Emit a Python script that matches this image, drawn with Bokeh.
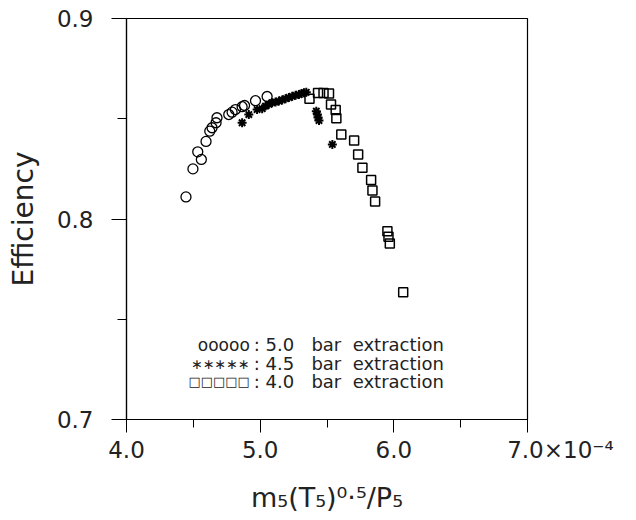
from bokeh.plotting import figure
from bokeh.models import FixedTicker, Label, Range1d
from bokeh.embed import file_html
from bokeh.resources import INLINE

# ---- data ----
x_50 = [4.445, 4.497, 4.533, 4.560, 4.595, 4.623, 4.640, 4.670, 4.677, 4.765,
        4.790, 4.815, 4.865, 4.883, 4.965, 5.052]
y_50 = [0.8110, 0.8250, 0.8335, 0.8297, 0.8387, 0.8438, 0.8455, 0.8480, 0.8505, 0.8521,
        0.8533, 0.8546, 0.8560, 0.8566, 0.8590, 0.8611]

x_45 = [4.865, 4.915, 4.977, 5.015, 5.040, 5.065, 5.090, 5.115, 5.140, 5.165,
        5.190, 5.215, 5.240, 5.265, 5.290, 5.310, 5.328, 5.345, 5.420, 5.428,
        5.433, 5.440, 5.540]
y_45 = [0.8480, 0.8521, 0.8546, 0.8550, 0.8563, 0.8572, 0.8580, 0.8583, 0.8588, 0.8594,
        0.8600, 0.8606, 0.8612, 0.8617, 0.8621, 0.8626, 0.8630, 0.8632, 0.8538, 0.8521,
        0.8506, 0.8491, 0.8372]

x_40 = [5.369, 5.433, 5.474, 5.515, 5.530, 5.565, 5.570, 5.607, 5.703, 5.733,
        5.765, 5.830, 5.840, 5.860, 5.952, 5.960, 5.970, 6.070]
y_40 = [0.8600, 0.8628, 0.8628, 0.8626, 0.8571, 0.8544, 0.8503, 0.8421, 0.8392, 0.8322,
        0.8255, 0.8195, 0.8142, 0.8087, 0.7939, 0.7911, 0.7878, 0.7635]

x_ticks = [4.0, 5.0, 6.0, 7.0]
x_minor = [4.5, 5.5, 6.5]
x_tick_labels = ["4.0", "5.0", "6.0", "\u00a0" * 9 + "7.0\u00d710\u207b\u2074"]
y_ticks = [0.7, 0.8, 0.9]
y_minor = [0.75, 0.85]
y_tick_labels = ["0.7", "0.8", "0.9"]

NB = "\u00a0"
legend_symbols = ["ooooo", "\u2217\u2217\u2217\u2217\u2217", "\u25a1\u25a1\u25a1\u25a1\u25a1"]
legend_texts = [":" + NB + "5.0" + NB * 3 + "bar" + NB * 2 + "extraction",
                ":" + NB + "4.5" + NB * 3 + "bar" + NB * 2 + "extraction",
                ":" + NB + "4.0" + NB * 3 + "bar" + NB * 2 + "extraction"]
legend_symbol_sizes = ["17px", "14px", "13px"]

FONT = "DejaVu Sans"
INK = "#222222"

p = figure(frame_width=401, frame_height=401,
           x_range=Range1d(4.0, 7.0), y_range=Range1d(0.7, 0.9),
           output_backend="svg", toolbar_location=None,
           min_border_left=126, min_border_right=100,
           min_border_top=18, min_border_bottom=96)
p.xgrid.visible = False
p.ygrid.visible = False
p.outline_line_color = "black"
p.outline_line_width = 1.2
p.background_fill_color = "white"
p.border_fill_color = "white"

# axes
p.xaxis.ticker = FixedTicker(ticks=x_ticks, minor_ticks=x_minor)
p.yaxis.ticker = FixedTicker(ticks=y_ticks, minor_ticks=y_minor)
p.xaxis.major_label_overrides = {t: l for t, l in zip(x_ticks, x_tick_labels)}
p.yaxis.major_label_overrides = {t: l for t, l in zip(y_ticks, y_tick_labels)}
for ax in (p.xaxis[0], p.yaxis[0]):
    ax.axis_line_color = "black"
    ax.axis_line_width = 1.2
    ax.major_tick_line_color = "black"
    ax.minor_tick_line_color = "black"
    ax.major_tick_in = 0
    ax.minor_tick_in = 0
    ax.major_label_text_font = FONT
    ax.major_label_text_font_size = "23px"
    ax.major_label_text_color = INK
    ax.axis_label_text_font = FONT
    ax.axis_label_text_font_style = "normal"
    ax.axis_label_text_color = INK

p.yaxis.major_tick_out = 15
p.yaxis.minor_tick_out = 9
p.yaxis.major_label_standoff = 18
p.yaxis.axis_label = "Efficiency"
p.yaxis.axis_label_text_font_size = "28px"
p.yaxis.axis_label_standoff = 14

p.xaxis.major_tick_out = 13
p.xaxis.minor_tick_out = 8
p.xaxis.major_label_standoff = 4
p.xaxis.axis_label = "m\u2085(T\u2085)\u2070\u00b7\u2075/P\u2085"
p.xaxis.axis_label_text_font_size = "27px"
p.xaxis.axis_label_standoff = 16

# data
p.scatter(x_50, y_50, marker="circle", size=10, fill_color=None,
          line_color="black", line_width=1.3)
p.scatter(x_40, y_40, marker="square", size=9, fill_color=None,
          line_color="black", line_width=1.5)
p.scatter(x_45, y_45, marker="asterisk", size=9, line_color="black", line_width=2)

# legend (text block inside the frame)
legend_rows_y = [0.7374, 0.7279, 0.7189]
for sym, txt, yy, fs in zip(legend_symbols, legend_texts, legend_rows_y, legend_symbol_sizes):
    p.add_layout(Label(x=4.9225, y=yy, text=sym, text_align="right",
                       text_baseline="middle", text_font=FONT,
                       text_font_size=fs, text_color=INK))
    p.add_layout(Label(x=4.9525, y=yy, text=txt, text_align="left",
                       text_baseline="middle", text_font=FONT,
                       text_font_size="18px", text_color=INK))

open("out.html", "w").write(file_html(p, INLINE))
